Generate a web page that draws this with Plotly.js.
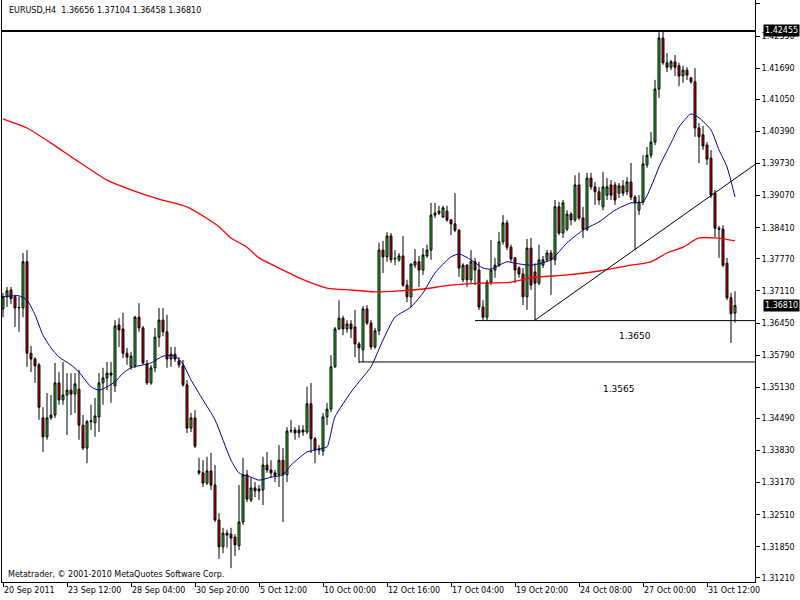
<!DOCTYPE html>
<html>
<head>
<meta charset="utf-8">
<script src="https://cdn.plot.ly/plotly-3.0.1.min.js"></script>
<style>html,body{margin:0;padding:0;background:#fff;}#chart{width:800px;height:600px;}</style>
</head>
<body>
<div id="chart"></div>
<script>
// ---- data (EURUSD H4) ----
const symbolTitle = "EURUSD,H4";
const open = [
1.3674,1.3699,1.3713,1.3699,1.3676,1.3676,1.3771,1.3583,1.3571,1.3559,
1.3450,1.3411,1.3450,1.3456,1.3522,1.3487,1.3497,1.3507,1.3499,1.3509,
1.3435,1.3388,1.3442,1.3440,1.3452,1.3522,1.3532,1.3542,1.3516,1.3641,
1.3633,1.3583,1.3555,1.3557,1.3657,1.3635,1.3561,1.3522,1.3553,1.3616,
1.3651,1.3627,1.3571,1.3581,1.3567,1.3557,1.3518,1.3429,1.3450,1.3341,
1.3337,1.3316,1.3341,1.3312,1.3240,1.3185,1.3213,1.3211,1.3205,1.3187,
1.3236,1.3333,1.3281,1.3306,1.3304,1.3302,1.3353,1.3343,1.3337,1.3333,
1.3363,1.3333,1.3423,1.3425,1.3419,1.3425,1.3421,1.3479,1.3407,1.3384,
1.3382,1.3452,1.3468,1.3555,1.3633,1.3655,1.3633,1.3643,1.3637,1.3602,
1.3590,1.3674,1.3645,1.3596,1.3629,1.3795,1.3781,1.3824,1.3777,1.3775,
1.3783,1.3723,1.3699,1.3764,1.3771,1.3754,1.3783,1.3795,1.3867,1.3871,
1.3863,1.3875,1.3857,1.3849,1.3836,1.3734,1.3764,1.3734,1.3771,1.3754,
1.3678,1.3657,1.3729,1.3754,1.3764,1.3812,1.3851,1.3801,1.3779,1.3758,
1.3746,1.3699,1.3799,1.3750,1.3727,1.3764,1.3775,1.3789,1.3775,1.3884,
1.3830,1.3838,1.3869,1.3857,1.3929,1.3861,1.3838,1.3943,1.3925,1.3915,
1.3884,1.3908,1.3929,1.3929,1.3912,1.3927,1.3915,1.3935,1.3904,1.3877,
1.3894,1.3970,1.3990,1.4017,1.4126,1.4231,1.4180,1.4171,1.4182,1.4174,
1.4153,1.4165,1.4149,1.4141,1.4046,1.4032,1.4011,1.3984,1.3912,1.3840,
1.3838,1.3768,1.3697,1.36656];
const high = [
1.3707,1.3719,1.3719,1.3703,1.3699,1.3789,1.3795,1.3598,1.3575,1.3563,
1.3472,1.3501,1.3497,1.3563,1.3544,1.3565,1.3542,1.3542,1.3542,1.3549,
1.3456,1.3446,1.3477,1.3491,1.3542,1.3553,1.3565,1.3565,1.3651,1.3655,
1.3666,1.3594,1.3586,1.3660,1.3686,1.3639,1.3569,1.3559,1.3635,1.3676,
1.3676,1.3662,1.3596,1.3596,1.3575,1.3569,1.3528,1.3460,1.3466,1.3368,
1.3363,1.3370,1.3378,1.3353,1.3254,1.3224,1.3220,1.3224,1.3211,1.3312,
1.3368,1.3343,1.3327,1.3318,1.3312,1.3370,1.3380,1.3363,1.3343,1.3394,
1.3388,1.3431,1.3446,1.3431,1.3435,1.3435,1.3514,1.3522,1.3411,1.3394,
1.3460,1.3481,1.3579,1.3637,1.3692,1.3660,1.3651,1.3651,1.3672,1.3606,
1.3680,1.3682,1.3651,1.3635,1.3810,1.3814,1.3832,1.3830,1.3795,1.3789,
1.3824,1.3734,1.3768,1.3797,1.3783,1.3799,1.3806,1.3892,1.3892,1.3886,
1.3886,1.3886,1.3859,1.3912,1.3838,1.3768,1.3766,1.3795,1.3779,1.3771,
1.3692,1.3734,1.3816,1.3779,1.3832,1.3867,1.3857,1.3806,1.3781,1.3762,
1.3758,1.3818,1.3820,1.3768,1.3806,1.3783,1.3795,1.3795,1.3898,1.3894,
1.3898,1.3877,1.3873,1.3949,1.3954,1.3884,1.3954,1.3954,1.3935,1.3925,
1.3956,1.3943,1.3939,1.3935,1.3933,1.3939,1.3945,1.3974,1.3908,1.3908,
1.3990,1.4007,1.4038,1.4145,1.4243,1.4245,1.4200,1.4186,1.4196,1.4180,
1.4174,1.4171,1.4151,1.4169,1.4056,1.4050,1.4017,1.4001,1.3919,1.3845,
1.3846,1.3779,1.3707,1.37104];
const low = [
1.3657,1.3678,1.3684,1.3637,1.3627,1.3657,1.3555,1.3544,1.3522,1.3446,
1.3380,1.3405,1.3446,1.3450,1.3477,1.3477,1.3415,1.3456,1.3460,1.3405,
1.3384,1.3357,1.3425,1.3411,1.3421,1.3477,1.3507,1.3481,1.3503,1.3596,
1.3573,1.3559,1.3549,1.3553,1.3627,1.3559,1.3518,1.3518,1.3544,1.3596,
1.3618,1.3553,1.3555,1.3565,1.3553,1.3514,1.3419,1.3421,1.3388,1.3333,
1.3308,1.3312,1.3302,1.3236,1.3160,1.3172,1.3183,1.3141,1.3166,1.3178,
1.3230,1.3277,1.3277,1.3287,1.3281,1.3271,1.3337,1.3327,1.3318,1.3308,
1.3236,1.3318,1.3419,1.3405,1.3409,1.3413,1.3417,1.3378,1.3357,1.3374,
1.3372,1.3435,1.3462,1.3553,1.3631,1.3620,1.3625,1.3614,1.3575,1.3563,
1.3565,1.3641,1.3590,1.3592,1.3620,1.3748,1.3771,1.3769,1.3764,1.3771,
1.3719,1.3688,1.3678,1.3758,1.3719,1.3744,1.3779,1.3775,1.3861,1.3867,
1.3861,1.3853,1.3826,1.3832,1.3740,1.3729,1.3719,1.3727,1.3723,1.3672,
1.3651,1.3651,1.3723,1.3738,1.3760,1.3806,1.3795,1.3771,1.3727,1.3738,
1.3682,1.3672,1.3713,1.3651,1.3723,1.3758,1.3771,1.3703,1.3764,1.3826,
1.3820,1.3834,1.3846,1.3853,1.3857,1.3820,1.3834,1.3919,1.3888,1.3888,
1.3877,1.3898,1.3898,1.3888,1.3902,1.3906,1.3908,1.3898,1.3795,1.3867,
1.3888,1.3964,1.3984,1.4011,1.4108,1.4176,1.4161,1.4165,1.4153,1.4132,
1.4139,1.4145,1.4137,1.4028,1.3974,1.4001,1.3970,1.3902,1.3822,1.3779,
1.3760,1.3692,1.3604,1.36458];
const close = [
1.3699,1.3711,1.3695,1.3676,1.3677,1.3771,1.3583,1.3571,1.3557,1.3472,
1.3411,1.3450,1.3456,1.3522,1.3487,1.3497,1.3507,1.3499,1.3520,1.3435,
1.3388,1.3442,1.3444,1.3454,1.3522,1.3532,1.3542,1.3538,1.3639,1.3631,
1.3583,1.3575,1.3577,1.3657,1.3635,1.3563,1.3522,1.3553,1.3616,1.3651,
1.3627,1.3571,1.3581,1.3571,1.3559,1.3518,1.3429,1.3450,1.3392,1.3337,
1.3316,1.3341,1.3312,1.3240,1.3185,1.3213,1.3209,1.3203,1.3189,1.3236,
1.3333,1.3283,1.3306,1.3300,1.3300,1.3353,1.3343,1.3337,1.3331,1.3363,
1.3333,1.3423,1.3424,1.3419,1.3425,1.3421,1.3479,1.3407,1.3384,1.3386,
1.3452,1.3468,1.3555,1.3633,1.3655,1.3633,1.3643,1.3633,1.3602,1.3594,
1.3674,1.3645,1.3596,1.3629,1.3795,1.3781,1.3824,1.3775,1.3778,1.3783,
1.3723,1.3699,1.3766,1.3771,1.3754,1.3785,1.3795,1.3867,1.3871,1.3875,
1.3882,1.3857,1.3849,1.3836,1.3758,1.3764,1.3734,1.3771,1.3754,1.3678,
1.3657,1.3729,1.3754,1.3764,1.3812,1.3851,1.3801,1.3777,1.3754,1.3746,
1.3699,1.3799,1.3723,1.3727,1.3775,1.3775,1.3789,1.3775,1.3884,1.3830,
1.3892,1.3869,1.3857,1.3929,1.3861,1.3838,1.3943,1.3925,1.3915,1.3898,
1.3925,1.3925,1.3908,1.3898,1.3927,1.3912,1.3935,1.3904,1.3892,1.3894,
1.3972,1.3990,1.4017,1.4126,1.4231,1.4180,1.4171,1.4182,1.4171,1.4153,
1.4165,1.4155,1.4141,1.4046,1.4028,1.4009,1.3982,1.3908,1.3840,1.3838,
1.3764,1.3697,1.3664,1.36810];

// slow moving average (red), sampled at bar indices
const maSlowBar = [0,6,12,19,26,32,39,46,51,54,57,61,64,69,74,81,87,93,99,105,112,120,127,132,141,149,157,162,166,170,174,178,183];
const maSlowVal = [1.4065,1.4046,1.4015,1.3976,1.3939,1.3919,1.3900,1.3884,1.3860,1.3843,1.3820,1.3801,1.3779,1.3758,1.3738,1.3717,1.3713,1.3709,1.3711,1.3715,1.3723,1.3727,1.3729,1.3738,1.3744,1.3752,1.3764,1.3771,1.3789,1.3801,1.3820,1.3820,1.3814];
// fast moving average (blue), sampled at bar indices
const maFastBar = [0,4,6,8,10,12,14,17,19,22,24,26,28,30,32,37,40,43,45,47,50,53,57,59,62,64,67,70,72,76,77,80,81,83,87,89,92,95,98,102,105,108,112,114,117,120,122,126,128,132,137,141,145,149,153,157,160,163,164,167,169,172,174,177,179,181,183];
const maFastVal = [1.3699,1.3701,1.3692,1.3662,1.3620,1.3594,1.3575,1.3559,1.3544,1.3514,1.3507,1.3514,1.3524,1.3542,1.3553,1.3563,1.3577,1.3577,1.3561,1.3528,1.3487,1.3446,1.3363,1.3337,1.3328,1.3322,1.3328,1.3333,1.3353,1.3380,1.3382,1.3388,1.3390,1.3452,1.3503,1.3524,1.3555,1.3610,1.3657,1.3678,1.3707,1.3748,1.3781,1.3787,1.3775,1.3758,1.3756,1.3771,1.3768,1.3764,1.3775,1.3810,1.3836,1.3853,1.3877,1.3892,1.3894,1.3945,1.3966,1.4015,1.4048,1.4075,1.4067,1.4042,1.4001,1.3966,1.3904];

// drawn levels and trend line
const resistanceLevel = 1.42455;
const levelValues = [1.3650, 1.3565];
const levelLabels = ["1.3650", "1.3565"];
const levelStartBar = [118, 89];
const trendBars = [133, 188];
const trendVals = [1.3651, 1.3971];

// axis ticks
const timeTickBars = [0,16,32,48,64,80,96,112,128,144,160,176];
const timeTickLabels = ["20 Sep 2011","23 Sep 12:00","28 Sep 04:00","30 Sep 20:00","5 Oct 12:00","10 Oct 00:00","12 Oct 16:00","17 Oct 04:00","19 Oct 20:00","24 Oct 08:00","27 Oct 00:00","31 Oct 12:00"];
const priceTicks = [1.43010,1.42350,1.41690,1.41050,1.40390,1.39730,1.39070,1.38410,1.37770,1.37110,1.36450,1.35790,1.35130,1.34490,1.33830,1.33170,1.32510,1.31850,1.31210];

// ---- build ----
const barIdx = open.map((_, i) => i);
const last = open.length - 1;
const fam = "DejaVu Sans, Verdana, sans-serif";

const traces = [
  {type:'scatter', mode:'lines', x:maSlowBar, y:maSlowVal, line:{color:'#ff0000', width:1.3, shape:'spline', smoothing:0.6}, hoverinfo:'skip'},
  {type:'scatter', mode:'lines', x:maFastBar, y:maFastVal, line:{color:'#000088', width:1, shape:'spline', smoothing:0.6}, hoverinfo:'skip'},
  {type:'candlestick', x:barIdx, open:open, high:high, low:low, close:close,
   increasing:{line:{color:'#000000', width:1}, fillcolor:'#32cd32'},
   decreasing:{line:{color:'#000000', width:1}, fillcolor:'#dd0000'},
   whiskerwidth:0, hoverinfo:'skip'}
];

const shapes = [
  {type:'line', xref:'paper', yref:'y', x0:0, x1:1, y0:resistanceLevel, y1:resistanceLevel, line:{color:'#000', width:2}},
  {type:'line', xref:'x', yref:'y', x0:trendBars[0], x1:trendBars[1], y0:trendVals[0], y1:trendVals[1], line:{color:'#000', width:1}}
];
levelValues.forEach((v, k) => {
  shapes.push({type:'line', xref:'x', yref:'y', x0:levelStartBar[k], x1:188, y0:v, y1:v, line:{color:'#000', width:1}});
});

const annotations = [
  {xref:'paper', yref:'paper', x:0.0066, y:0.9816, xanchor:'left', yanchor:'middle', showarrow:false,
   text: symbolTitle + "  " + [open[last], high[last], low[last], close[last]].map(v => v.toFixed(5)).join(" "),
   font:{family:fam, size:8, color:'#000'}},
  {xref:'paper', yref:'paper', x:0.0053, y:0.0137, xanchor:'left', yanchor:'middle', showarrow:false,
   text:"Metatrader, © 2001-2010 MetaQuotes Software Corp.", font:{family:fam, size:8, color:'#000'}},
  {xref:'x', yref:'y', x:157.9, y:1.3618, showarrow:false, text:levelLabels[0], font:{family:fam, size:9, color:'#000'}},
  {xref:'x', yref:'y', x:153.9, y:1.3509, showarrow:false, text:levelLabels[1], font:{family:fam, size:9, color:'#000'}},
  {xref:'paper', yref:'y', x:1, xshift:8, y:resistanceLevel, xanchor:'left', yanchor:'middle', showarrow:false,
   text:resistanceLevel.toFixed(5), bgcolor:'#000', borderpad:1, font:{family:fam, size:8, color:'#fff'}},
  {xref:'paper', yref:'y', x:1, xshift:8, y:close[last], xanchor:'left', yanchor:'middle', showarrow:false,
   text:close[last].toFixed(5), bgcolor:'#000', borderpad:1, font:{family:fam, size:8, color:'#fff'}}
];

const layout = {
  width:800, height:600,
  margin:{l:2, r:45, t:0, b:18, pad:0},
  paper_bgcolor:'#fff', plot_bgcolor:'#fff',
  showlegend:false,
  font:{family:fam, size:8, color:'#000'},
  xaxis:{range:[-0.25, 188], tickvals:timeTickBars, ticktext:timeTickLabels, ticks:'outside', ticklen:4,
         tickcolor:'#000', showline:true, linecolor:'#000', linewidth:1, showgrid:false, zeroline:false,
         rangeslider:{visible:false}, ticklabelposition:'outside right', tickfont:{family:fam, size:8, color:'#000'}, fixedrange:true},
  yaxis:{side:'right', range:[1.31126, 1.43092], tickvals:priceTicks, ticktext:priceTicks.map(v => v.toFixed(5)),
         ticks:'outside', ticklen:4, tickcolor:'#000', showline:true, mirror:true, linecolor:'#000', linewidth:1,
         showgrid:false, zeroline:false, tickfont:{family:fam, size:8, color:'#000'}, fixedrange:true},
  shapes:shapes,
  annotations:annotations
};

Plotly.newPlot('chart', traces, layout, {staticPlot:true, displayModeBar:false});
</script>
</body>
</html>
